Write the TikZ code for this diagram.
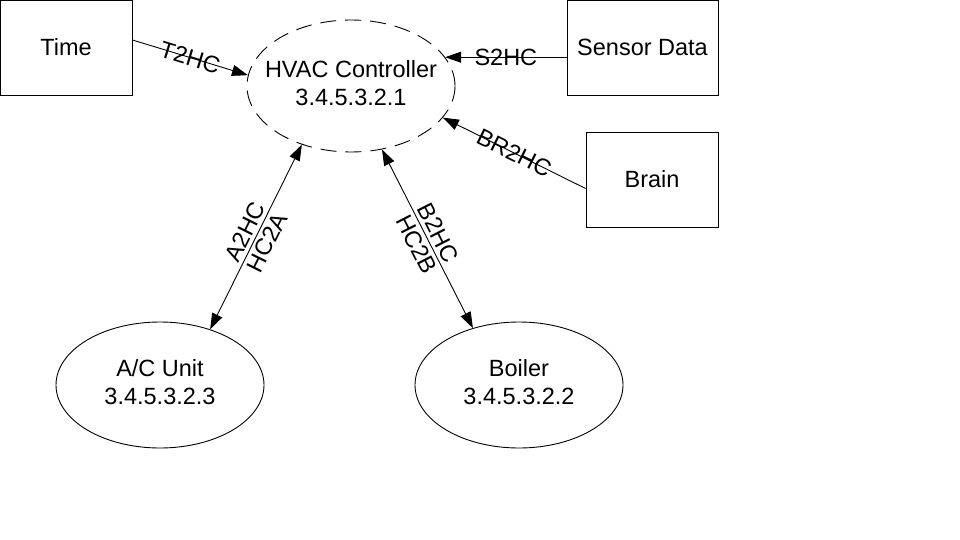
\documentclass[tikz,border=0pt]{standalone}
\usepackage{fontspec}
\setmainfont{Liberation Sans}
\usetikzlibrary{arrows.meta,shapes.geometric}
\begin{document}
\begin{tikzpicture}[x=1pt,y=-1pt,
  every node/.style={font=\fontsize{23.5}{28}\selectfont},
  box/.style={draw, line width=0.9pt, inner sep=0pt, rectangle, minimum height=95pt},
  ell/.style={draw, ellipse, line width=0.9pt, inner sep=0pt, minimum width=208pt, minimum height=126pt},
  conn/.style={line width=0.9pt, -{Triangle[length=16pt,width=11pt]}},
  biconn/.style={line width=0.9pt, {Triangle[length=16pt,width=11pt]}-{Triangle[length=16pt,width=11pt]}},
  lab/.style={midway, sloped, inner sep=0pt, anchor=center},
  sidelab/.style={midway, sloped, inner sep=3.5pt}
]
\fill[white] (0,0) rectangle (960,540);
\useasboundingbox (0,0) rectangle (960,540);

\node[box, minimum width=132pt] (time) at (66,47.5) {Time};
\node[box, minimum width=151pt] (sensor) at (642.5,47.5) {Sensor Data};
\node[box, minimum width=132pt] (brain) at (652,179.5) {Brain};

\node[ell, minimum height=132pt, dash pattern=on 16pt off 9pt] (hvac) at (351,86)
  {\makebox[0pt]{\begin{tabular}{@{}c@{}}HVAC Controller\\3.4.5.3.2.1\end{tabular}}};
\node[ell] (ac) at (160,385)
  {\makebox[0pt]{\begin{tabular}{@{}c@{}}A/C Unit\\3.4.5.3.2.3\end{tabular}}};
\node[ell] (boiler) at (519,385)
  {\makebox[0pt]{\begin{tabular}{@{}c@{}}Boiler\\3.4.5.3.2.2\end{tabular}}};

\draw[conn] ([yshift=7.5pt]time.east) -- (hvac.174) node[lab]{T2HC};
\draw[conn] (sensor.west |- hvac.17) -- (hvac.17) node[lab]{S2HC};
\draw[conn] ([yshift=-9pt]brain.west) -- (hvac.-19) node[lab]{BR2HC};
\draw[biconn] (ac.48) -- (hvac.230)
  node[sidelab, above]{A2HC} node[sidelab, below]{HC2A};
\draw[biconn] (hvac.-64) -- (boiler.129)
  node[sidelab, above]{B2HC} node[sidelab, below]{HC2B};
\end{tikzpicture}
\end{document}
